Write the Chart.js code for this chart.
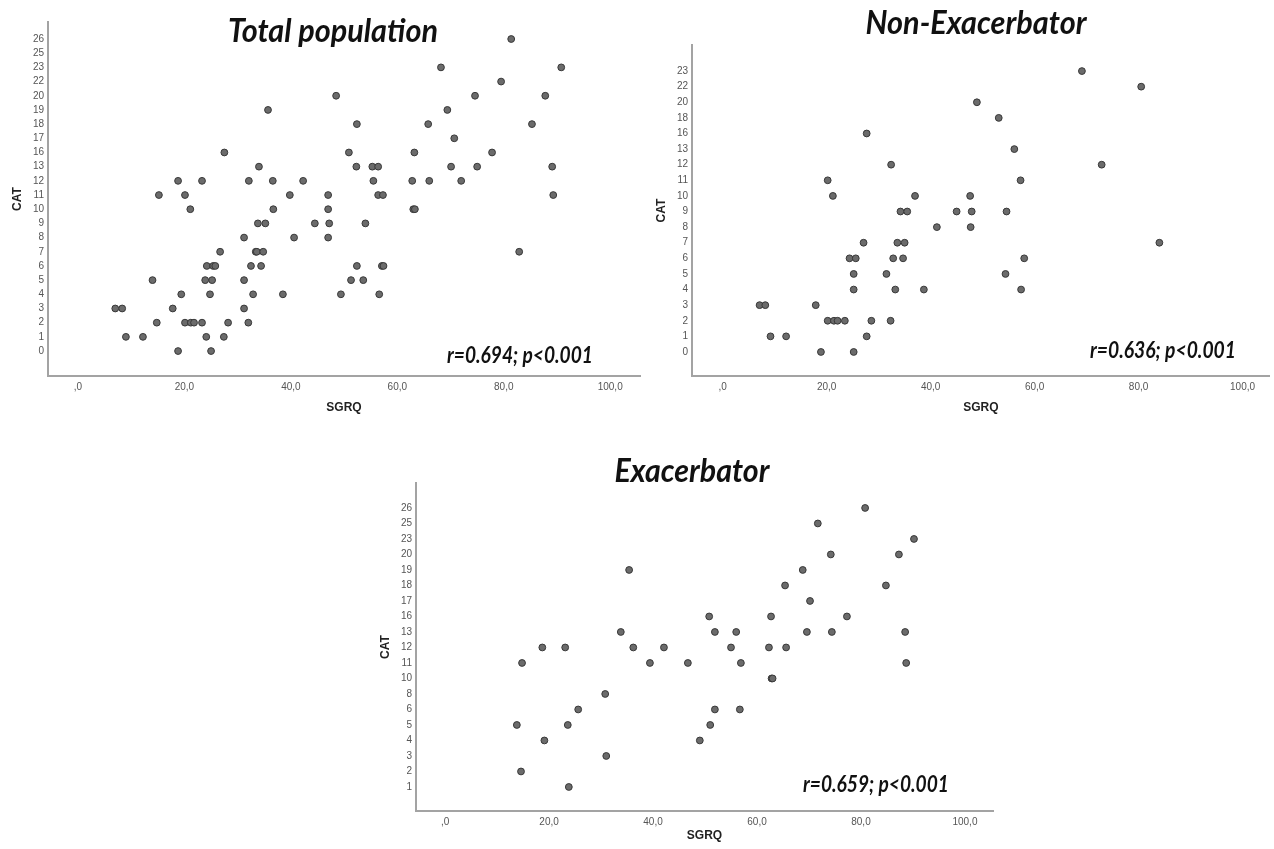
<!DOCTYPE html>
<html lang="en">
<head>
<meta charset="UTF-8">
<title>CAT vs SGRQ</title>
<script src="https://cdn.jsdelivr.net/npm/chart.js"></script>
<style>
  body { margin: 0; background: white; overflow: hidden; width: 1274px; height: 849px; }
  canvas { position: absolute; }
</style>
</head>
<body>
<canvas id="totalChart"></canvas>
<canvas id="nonExacChart"></canvas>
<canvas id="exacChart"></canvas>
<script>
// SGRQ ticks, same on the three panels
const sgrqTicks = [0, 20, 40, 60, 80, 100];

// Total population
const totalCatTicks = [0, 1, 2, 3, 4, 5, 6, 7, 8, 9, 10, 11, 12, 13, 16, 17, 18, 19, 20, 22, 23, 25, 26];
const totalSgrq = [
  81.4,
  68.2, 90.8,
  79.5,
  48.5, 74.6, 87.8,
  35.7, 69.4,
  52.4, 65.8, 85.3,
  70.7,
  27.5, 50.9, 63.2, 77.8,
  34.0, 52.3, 55.3, 56.4, 70.1, 75.0, 89.1,
  18.8, 23.3, 32.1, 36.6, 42.3, 55.5, 62.8, 66.0, 72.0,
  15.2, 20.1, 39.8, 47.0, 56.4, 57.3, 89.3,
  21.1, 36.7, 47.0, 63.0, 63.3,
  33.8, 35.2, 44.5, 47.2, 54.0,
  31.2, 40.6, 47.0,
  26.7, 33.4, 33.6, 34.8, 82.9,
  24.2, 25.4, 25.8, 32.5, 34.4, 52.4, 57.1, 57.4,
  14.0, 23.9, 25.2, 31.2, 51.3, 53.6,
  19.4, 24.8, 32.9, 38.5, 49.4, 56.6,
  7.0, 8.3, 17.8, 31.2,
  14.8, 20.1, 21.2, 21.8, 23.3, 28.2, 32.0,
  9.0, 12.2, 24.1, 27.4,
  18.8, 25.0
];
const totalCat = [
  26,
  23, 23,
  22,
  20, 20, 20,
  19, 19,
  18, 18, 18,
  17,
  16, 16, 16, 16,
  13, 13, 13, 13, 13, 13, 13,
  12, 12, 12, 12, 12, 12, 12, 12, 12,
  11, 11, 11, 11, 11, 11, 11,
  10, 10, 10, 10, 10,
  9, 9, 9, 9, 9,
  8, 8, 8,
  7, 7, 7, 7, 7,
  6, 6, 6, 6, 6, 6, 6, 6,
  5, 5, 5, 5, 5, 5,
  4, 4, 4, 4, 4, 4,
  3, 3, 3, 3,
  2, 2, 2, 2, 2, 2, 2,
  1, 1, 1, 1,
  0, 0
];

// Non-Exacerbator
const nonExacCatTicks = [0, 1, 2, 3, 4, 5, 6, 7, 8, 9, 10, 11, 12, 13, 16, 18, 20, 22, 23];
const nonExacSgrq = [
  69.1,
  80.5,
  48.9,
  53.1,
  27.7,
  56.1,
  32.4, 72.9,
  20.2, 57.3,
  21.2, 37.0, 47.6,
  34.2, 35.5, 45.0, 47.9, 54.6,
  41.2, 47.7,
  27.1, 33.6, 35.0, 84.0,
  24.4, 25.6, 32.8, 34.7, 58.0,
  25.2, 31.5, 54.4,
  25.2, 33.2, 38.7, 57.4,
  7.1, 8.2, 17.9,
  20.2, 21.4, 22.1, 23.5, 28.6, 32.3,
  9.2, 12.2, 27.7,
  18.9, 25.2
];
const nonExacCat = [
  23,
  22,
  20,
  18,
  16,
  13,
  12, 12,
  11, 11,
  10, 10, 10,
  9, 9, 9, 9, 9,
  8, 8,
  7, 7, 7, 7,
  6, 6, 6, 6, 6,
  5, 5, 5,
  4, 4, 4, 4,
  3, 3, 3,
  2, 2, 2, 2, 2, 2,
  1, 1, 1,
  0, 0
];

// Exacerbator
const exacCatTicks = [1, 2, 3, 4, 5, 6, 8, 10, 11, 12, 13, 16, 17, 18, 19, 20, 23, 25, 26];
const exacSgrq = [
  80.8,
  71.7,
  90.2,
  74.2, 87.3,
  35.4, 68.8,
  65.4, 84.8,
  70.2,
  50.8, 62.7, 77.3,
  33.8, 51.9, 56.0, 69.6, 74.4, 88.5,
  18.7, 23.1, 36.2, 42.1, 55.0, 62.3, 65.6,
  14.8, 39.4, 46.7, 56.9, 88.7,
  62.8, 63.0,
  30.8,
  25.6, 51.9, 56.7,
  13.8, 23.6, 51.0,
  19.1, 49.0,
  31.0,
  14.6,
  23.8
];
const exacCat = [
  26,
  25,
  23,
  20, 20,
  19, 19,
  18, 18,
  17,
  16, 16, 16,
  13, 13, 13, 13, 13, 13,
  12, 12, 12, 12, 12, 12, 12,
  11, 11, 11, 11, 11,
  10, 10,
  8,
  6, 6, 6,
  5, 5, 5,
  4, 4,
  3,
  2,
  1
];

const axisColor = '#a3a3a3';
const tickColor = '#555';
const labelFont = "'Liberation Sans', Arial, sans-serif";
const headFont = "Lato, 'Open Sans', sans-serif";

function sgrqLabel(v) {
  if (v === 0) return ',0';
  return v.toFixed(1).replace('.', ',');
}

// titles and r/p notes, placed in page pixels
function textPlugin(panel) {
  return {
    id: 'panelText',
    afterDraw(chart) {
      const ctx = chart.ctx;
      ctx.save();
      ctx.fillStyle = '#111';
      ctx.textAlign = 'center';
      ctx.textBaseline = 'alphabetic';
      ctx.font = 'italic bold 32px ' + headFont;
      ctx.fillText(panel.title, panel.titleX - panel.box.left, panel.titleY - panel.box.top, panel.titleW);
      ctx.font = 'italic bold 22px ' + headFont;
      ctx.fillText(panel.note, panel.noteX - panel.box.left, panel.noteY - panel.box.top, 146);
      ctx.restore();
    }
  };
}

function makeChart(id, panel) {
  const canvas = document.getElementById(id);
  const box = panel.box;
  const plot = panel.plot;
  canvas.width = box.w;
  canvas.height = box.h;
  canvas.style.left = box.left + 'px';
  canvas.style.top = box.top + 'px';

  const points = panel.sgrq.map((x, i) => ({ x: x, y: panel.catTicks.indexOf(panel.cat[i]) }));
  const n = panel.catTicks.length;

  return new Chart(canvas.getContext('2d'), {
    type: 'scatter',
    data: {
      datasets: [{
        data: points,
        pointRadius: 3.4,
        pointHoverRadius: 3.4,
        backgroundColor: '#6b6b6b',
        borderColor: '#383838',
        borderWidth: 1
      }]
    },
    options: {
      responsive: false,
      animation: false,
      layout: {
        padding: { left: 0, top: plot.t - box.top, right: box.left + box.w - plot.r, bottom: 0 }
      },
      plugins: { legend: { display: false }, tooltip: { enabled: false } },
      scales: {
        x: {
          type: 'linear',
          min: panel.xMin,
          max: panel.xMax,
          grid: { display: false, drawTicks: false },
          border: { display: true, color: axisColor, width: 2 },
          afterBuildTicks: s => { s.ticks = sgrqTicks.map(v => ({ value: v })); },
          afterFit: s => { s.height = box.top + box.h - plot.b; },
          ticks: {
            padding: 5, color: tickColor, autoSkip: false, maxRotation: 0,
            font: { family: labelFont, size: 10 },
            callback: v => sgrqLabel(v)
          },
          title: {
            display: true, text: 'SGRQ', color: '#222',
            font: { family: labelFont, size: 12, weight: 'bold' },
            padding: { top: 0, bottom: panel.xTitlePad }
          }
        },
        y: {
          type: 'linear',
          min: -panel.yPadBottom,
          max: n - 1 + panel.yPadTop,
          grid: { display: false, drawTicks: false },
          border: { display: true, color: axisColor, width: 2 },
          afterBuildTicks: s => { s.ticks = panel.catTicks.map((c, i) => ({ value: i })); },
          afterFit: s => { s.width = plot.l - box.left; },
          ticks: {
            padding: 4, color: tickColor, autoSkip: false,
            font: { family: labelFont, size: 10 },
            callback: v => String(panel.catTicks[v])
          },
          title: {
            display: true, text: 'CAT', color: '#222',
            font: { family: labelFont, size: 12, weight: 'bold' },
            padding: { top: 10.8, bottom: 0 }
          }
        }
      }
    },
    plugins: [textPlugin(panel)]
  });
}

makeChart('totalChart', {
  box: { left: 0, top: 0, w: 646, h: 420 },
  plot: { l: 48, t: 22, r: 640, b: 376 },
  xMin: -5.64, xMax: 105.6,
  yPadBottom: 1.76, yPadTop: 1.2,
  xTitlePad: 4.8,
  sgrq: totalSgrq, cat: totalCat, catTicks: totalCatTicks,
  title: 'Total population', titleX: 333, titleY: 42, titleW: 210,
  note: 'r=0.694; p<0.001', noteX: 520, noteY: 363
});

makeChart('nonExacChart', {
  box: { left: 644, top: 0, w: 630, h: 420 },
  plot: { l: 692, t: 45, r: 1273, b: 376 },
  xMin: -5.9, xMax: 105.2,
  yPadBottom: 1.54, yPadTop: 1.67,
  xTitlePad: 4.8,
  sgrq: nonExacSgrq, cat: nonExacCat, catTicks: nonExacCatTicks,
  title: 'Non-Exacerbator', titleX: 976, titleY: 34, titleW: 221,
  note: 'r=0.636; p<0.001', noteX: 1163, noteY: 358
});

makeChart('exacChart', {
  box: { left: 368, top: 440, w: 640, h: 409 },
  plot: { l: 416, t: 483, r: 993, b: 811 },
  xMin: -5.6, xMax: 105.4,
  yPadBottom: 1.55, yPadTop: 1.61,
  xTitlePad: 5.8,
  sgrq: exacSgrq, cat: exacCat, catTicks: exacCatTicks,
  title: 'Exacerbator', titleX: 692, titleY: 482, titleW: 155,
  note: 'r=0.659; p<0.001', noteX: 876, noteY: 792
});
</script>
</body>
</html>
